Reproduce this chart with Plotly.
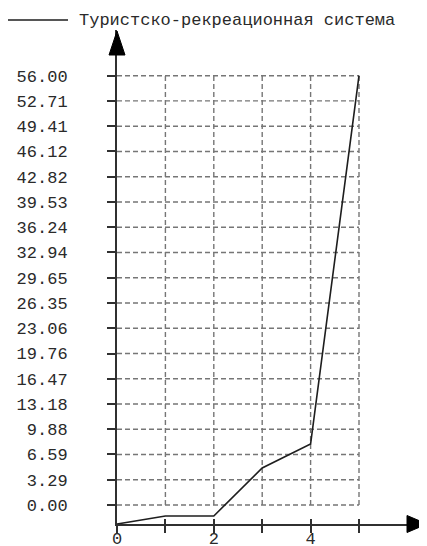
import plotly.graph_objects as go

# ---- data ----
series_name = "Туристско-рекреационная система"
x_values = [0, 1, 2, 3, 4, 5]
y_values = [0, 1, 1, 7, 10, 56]
x_tick_values = [0, 1, 2, 3, 4, 5]
x_tick_labels = ["0", "", "2", "", "4", ""]
y_tick_labels = ["0.00", "3.29", "6.59", "9.88", "13.18", "16.47", "19.76",
                 "23.06", "26.35", "29.65", "32.94", "36.24", "39.53",
                 "42.82", "46.12", "49.41", "52.71", "56.00"]
y_tick_values = [float(t) for t in y_tick_labels]

# ---- layout / style constants ----
# the page adds an 8px body margin, so the figure is 8px smaller each way
W, H = 419, 538
ML, MR, MT, MB = 109, 0, 22, 22
FONT = "Liberation Mono"
FS = 17
TXT = "#2a2a2a"
AXC = "#303030"
GRID = "#767676"
X_RANGE = [0, 6.405]
Y_RANGE = [0, 61.71]          # data scale
Y2_RANGE = [-2.478, 61.96]    # label scale

fig = go.Figure()

fig.add_trace(go.Scatter(
    x=x_values, y=y_values, mode="lines", name=series_name,
    line=dict(color="#1e1e1e", width=1.6), showlegend=False,
    xaxis="x", yaxis="y", hoverinfo="skip"))
# carrier trace for the label axes
fig.add_trace(go.Scatter(x=[None], y=[None], xaxis="x2", yaxis="y2",
                         showlegend=False, hoverinfo="skip"))

shapes = []
# horizontal grid lines (label scale), from x=0 to last category
for v in y_tick_values:
    shapes.append(dict(type="line", xref="x", yref="y2",
                       x0=x_tick_values[0], x1=x_tick_values[-1], y0=v, y1=v,
                       line=dict(color=GRID, width=1.4, dash="5px,3px"),
                       layer="below"))
# vertical grid lines
for xv in x_tick_values[1:]:
    shapes.append(dict(type="line", xref="x", yref="y2",
                       x0=xv, x1=xv, y0=y_tick_values[0], y1=y_tick_values[-1],
                       line=dict(color=GRID, width=1.4, dash="5px,3px"),
                       layer="below"))
# arrow heads
shapes.append(dict(type="path", xref="paper", yref="paper",
                   xsizemode="pixel", ysizemode="pixel", xanchor=0, yanchor=1,
                   path="M -8,-25 L 0,-1 L 8,-25 Z",
                   fillcolor="#000000", line=dict(color="#000000", width=1)))
shapes.append(dict(type="path", xref="paper", yref="paper",
                   xsizemode="pixel", ysizemode="pixel", xanchor=1, yanchor=0,
                   path="M -20,-8.5 L 0,0 L -20,8.5 Z",
                   fillcolor="#000000", line=dict(color="#000000", width=1)))
# legend line
shapes.append(dict(type="line", xref="paper", yref="paper",
                   xsizemode="pixel", ysizemode="pixel", xanchor=0, yanchor=1,
                   x0=-109, x1=-49, y0=10, y1=10,
                   line=dict(color="#1e1e1e", width=1.6)))

annotations = [dict(text=series_name, xref="paper", yref="paper", x=0, y=1,
                    xshift=-40, yshift=10, xanchor="left", yanchor="middle",
                    showarrow=False, font=dict(family=FONT, size=FS, color=TXT))]

fig.update_layout(
    width=W, height=H, margin=dict(l=ML, r=MR, t=MT, b=MB, pad=0,
                                   autoexpand=False),
    paper_bgcolor="white", plot_bgcolor="white",
    shapes=shapes, annotations=annotations, showlegend=False,
    xaxis=dict(range=X_RANGE, showline=True, linecolor=AXC, linewidth=2,
               ticks="outside", ticklen=7, tickwidth=1.5, tickcolor=AXC,
               tickvals=x_tick_values, ticktext=x_tick_labels,
               ticklabelstandoff=-9,
               showgrid=False, zeroline=False, automargin=False,
               tickfont=dict(family=FONT, size=FS, color=TXT)),
    xaxis2=dict(range=X_RANGE, overlaying="x", anchor="y2", side="bottom",
                ticks="inside", ticklen=5, tickwidth=1.5, tickcolor=AXC,
                tickvals=x_tick_values[1:], showticklabels=False,
                showline=False, showgrid=False, zeroline=False,
                automargin=False),
    yaxis=dict(range=Y_RANGE, visible=False, automargin=False),
    yaxis2=dict(range=Y2_RANGE, overlaying="y", anchor="x2", side="left",
                showline=True, linecolor=AXC, linewidth=2,
                ticks="outside", ticklen=8, tickwidth=1.5, tickcolor=AXC,
                tickvals=y_tick_values, ticktext=y_tick_labels,
                ticklabelstandoff=36, automargin=False,
                showgrid=False, zeroline=False,
                tickfont=dict(family=FONT, size=FS, color=TXT)),
)

fig.write_html("out.html")
